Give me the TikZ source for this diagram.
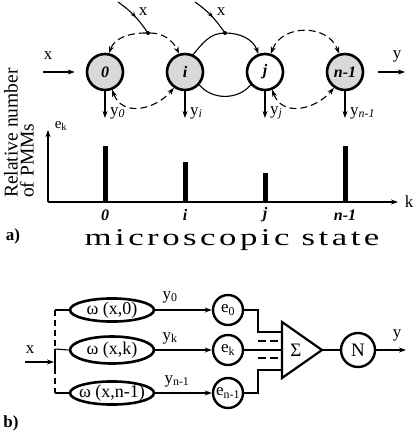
\documentclass[tikz,border=0pt]{standalone}
\usepackage{fontspec}
\setmainfont{Liberation Serif}
\newfontfamily\widefont[LetterSpace=10]{Liberation Serif}
\usetikzlibrary{arrows.meta,decorations.markings,shapes.geometric}
\begin{document}
\begin{tikzpicture}[x=1pt,y=1pt,
 arr/.style={-{Stealth[length=7pt,width=5pt]}},
 darr/.style={{Stealth[length=7pt,width=5pt]}-{Stealth[length=7pt,width=5pt]}},
 dsh/.style={dash pattern=on 7pt off 4pt, line width=1.1pt},
 ln/.style={line width=1.1pt},
 statenode/.style={circle, draw, line width=2.6pt, minimum size=36pt, inner sep=0pt, font=\fontsize{16}{16}\selectfont\bfseries\itshape},
 grayfill/.style={fill=black!15},
 dotnode/.style={circle, fill, inner sep=0pt, minimum size=4pt},
 lbl/.style={font=\fontsize{17}{17}\selectfont, inner sep=0pt},
 midarr/.style={postaction={decorate}, decoration={markings, mark=at position 0.55 with {\arrow{Stealth[length=6pt,width=4.5pt]}}}},
 ellnode/.style={ellipse, draw, line width=2.6pt, minimum width=84pt, inner sep=0pt, font=\fontsize{18}{18}\selectfont},
 enode/.style={circle, draw, line width=2.4pt, minimum size=30pt, inner sep=0pt, font=\fontsize{17}{17}\selectfont},
 ticklbl/.style={font=\fontsize{16}{16}\selectfont\bfseries\itshape, inner sep=0pt},
 bar/.style={fill=black}
]
\useasboundingbox (0,0) rectangle (415,-438);
% ---------- part a: chain ----------
\node[statenode, grayfill] (c0) at (105,-72) {0};
\node[statenode, grayfill] (ci) at (185,-72) {i};
\node[statenode] (cj) at (265,-72) {j};
\node[statenode, grayfill] (cn) at (345,-72) {n-1};
\coordinate (xin) at (43,-72);
\coordinate (yout) at (405,-72);
\draw[ln, arr, shorten >=11pt] (xin) -- (c0.west);
\node[lbl] (xl) at (48,-56) {x};
\draw[ln, arr, shorten <=14pt] (cn.east) -- (yout);
\node[lbl] (yl) at (397,-56) {y};
% outputs
\coordinate (y0e) at (105,-118);
\coordinate (yie) at (185,-118);
\coordinate (yje) at (265,-118);
\coordinate (yne) at (345,-118);
\draw[ln, arr] (c0.south) -- (y0e);
\draw[ln, arr] (ci.south) -- (yie);
\draw[ln, arr] (cj.south) -- (yje);
\draw[ln, arr] (cn.south) -- (yne);
\node[lbl, anchor=west] (y0l) at (110,-113) {y\textsubscript{\itshape 0}};
\node[lbl, anchor=west] (yil) at (190,-113) {y\textsubscript{\itshape i}};
\node[lbl, anchor=west] (yjl) at (270,-113) {y\textsubscript{\itshape j}};
\node[lbl, anchor=west] (ynl) at (350,-113) {y\textsubscript{\itshape n-1}};
% top arcs
\node[dotnode] (d1) at (148,-33) {};
\node[dotnode] (d2) at (225,-33) {};
\draw[dsh, arr] (d1) to[out=180, in=70] (c0.78);
\draw[dsh, arr] (d1) to[out=0, in=115] (ci.108);
\draw[ln, arr] (ci.65) to[out=50, in=180] (d2.center) to[out=0, in=110] (cj.110);
\draw[dsh, darr] (cj.72) to[out=70, in=110, looseness=1.2] (cn.108);
% incoming x
\coordinate (s1) at (118,-2);
\coordinate (s2) at (195,-2);
\draw[ln, midarr] (s1) to[out=-35, in=125] (d1.center);
\draw[ln, midarr] (s2) to[out=-35, in=125] (d2.center);
\node[lbl] (x1) at (143,-12) {x};
\node[lbl] (x2) at (221,-12) {x};
% bottom arcs
\draw[dsh, darr] (c0.-68) to[out=-70, in=-130, looseness=1.2] (ci.-125);
\draw[ln] (ci.-42) to[out=-50, in=-130] (cj.-138);
\draw[dsh, darr] (cj.-68) to[out=-70, in=-130, looseness=1.2] (cn.-125);
% ---------- part a: bar chart ----------
\coordinate (org) at (48,-202);
\coordinate (ytop) at (48,-130);
\coordinate (xend) at (398,-202);
\draw[line width=1.3pt, arr] (org) -- (ytop);
\draw[line width=1.3pt, arr] (org) -- (xend);
\node[font=\fontsize{15}{15}\selectfont, inner sep=0pt] (ekl) at (61,-126) {e\textsubscript{k}};
\node[lbl] (kl) at (409,-202) {k};
\fill[bar] (102.5,-202) rectangle (107.5,-146);
\fill[bar] (182.5,-202) rectangle (187.5,-162);
\fill[bar] (262.5,-202) rectangle (267.5,-173);
\fill[bar] (342.5,-202) rectangle (347.5,-146);
\node[ticklbl] (t0) at (105,-215) {0};
\node[ticklbl] (ti) at (185,-215) {i};
\node[ticklbl] (tj) at (265,-215) {j};
\node[ticklbl] (tn) at (345,-215) {n-1};
\node[rotate=90, anchor=north west, align=left, inner sep=0pt, font=\fontsize{19.5}{16}\selectfont] (ylab) at (4,-198) {Relative number\\of PMMs};
\node[font=\fontsize{17}{17}\selectfont\bfseries, inner sep=0pt] (alab) at (13,-236) {a)};
\node[inner sep=0pt, text height=12pt, text depth=4pt] (ms) at (232,-241) {\scalebox{1.45}[1]{\fontsize{24}{24}\selectfont\widefont microscopic state}};
% ---------- part b ----------
\node[ellnode, minimum height=20pt] (w0) at (112,-310) {\makebox[0pt]{ω (x,0)}};
\node[ellnode, minimum height=27pt] (wk) at (112,-350) {\makebox[0pt]{ω (x,k)}};
\node[ellnode, minimum height=21pt] (wn) at (112,-393) {\makebox[0pt]{ω (x,n-1)}};
\coordinate (b0) at (55,-310);
\coordinate (bk) at (55,-349);
\coordinate (bs) at (55,-368);
\coordinate (bn) at (55,-393);
\draw[line width=2pt] (bk) -- (bs);
\draw[ln, dash pattern=on 6pt off 4pt] (b0) -- (bk);
\draw[ln, dash pattern=on 6pt off 4pt] (bs) -- (bn);
\draw[ln] (b0) -- (w0.west);
\draw[ln] (bk) -- (wk.west);
\draw[ln] (bn) -- (wn.west);
\coordinate (bxin) at (25,-362);
\coordinate (bxe) at (54,-362);
\draw[ln, arr] (bxin) -- (bxe);
\node[lbl] (bxl) at (30,-350) {x};
\node[enode] (f0) at (228,-310) {e\textsubscript{0}};
\node[enode] (fk) at (228,-350) {e\textsubscript{k}};
\node[enode] (fn) at (228,-393) {\makebox[0pt]{e\textsubscript{n-1}}};
\draw[ln, arr] (w0.east) -- (f0.west);
\draw[ln, arr] (wk.east) -- (fk.west);
\draw[ln, arr] (wn.east) -- (fn.west);
\node[lbl, font=\fontsize{17}{17}\selectfont] (by0) at (170,-297) {y\textsubscript{0}};
\node[lbl, font=\fontsize{17}{17}\selectfont] (byk) at (170,-338) {y\textsubscript{k}};
\node[lbl, font=\fontsize{17}{17}\selectfont] (byn) at (177,-381) {y\textsubscript{n-1}};
% summator
\coordinate (tA) at (282,-322);
\coordinate (tB) at (282,-378);
\coordinate (tC) at (322,-350);
\draw[line width=2.2pt, line join=miter] (tA) -- (tC) -- (tB) -- cycle;
\node[font=\fontsize{19}{19}\selectfont, inner sep=0pt] (sig) at (296,-350) {Σ};
\coordinate (j0a) at (258,-310);
\coordinate (j0b) at (258,-332);
\coordinate (j0c) at (282,-332);
\coordinate (jna) at (258,-393);
\coordinate (jnb) at (258,-370);
\coordinate (jnc) at (282,-370);
\coordinate (jk) at (282,-350);
\draw[ln] (f0.east) -- (j0a) -- (j0b) -- (j0c);
\draw[ln] (fn.east) -- (jna) -- (jnb) -- (jnc);
\draw[ln] (fk.east) -- (jk);
\coordinate (dA1) at (258,-341);
\coordinate (dA2) at (282,-341);
\coordinate (dB1) at (258,-358);
\coordinate (dB2) at (282,-358);
\draw[ln, dash pattern=on 8pt off 4pt] (dA1) -- (dA2);
\draw[ln, dash pattern=on 8pt off 4pt] (dB1) -- (dB2);
\node[circle, draw, line width=2.4pt, minimum size=34pt, inner sep=0pt, font=\fontsize{19}{19}\selectfont] (nn) at (358,-350) {N};
\draw[ln] (tC) -- (nn.west);
\coordinate (byout) at (406,-350);
\draw[ln, arr] (nn.east) -- (byout);
\node[lbl] (byl) at (397,-335) {y};
\node[font=\fontsize{17}{17}\selectfont\bfseries, inner sep=0pt] (blab) at (11,-423) {b)};
\end{tikzpicture}
\end{document}
